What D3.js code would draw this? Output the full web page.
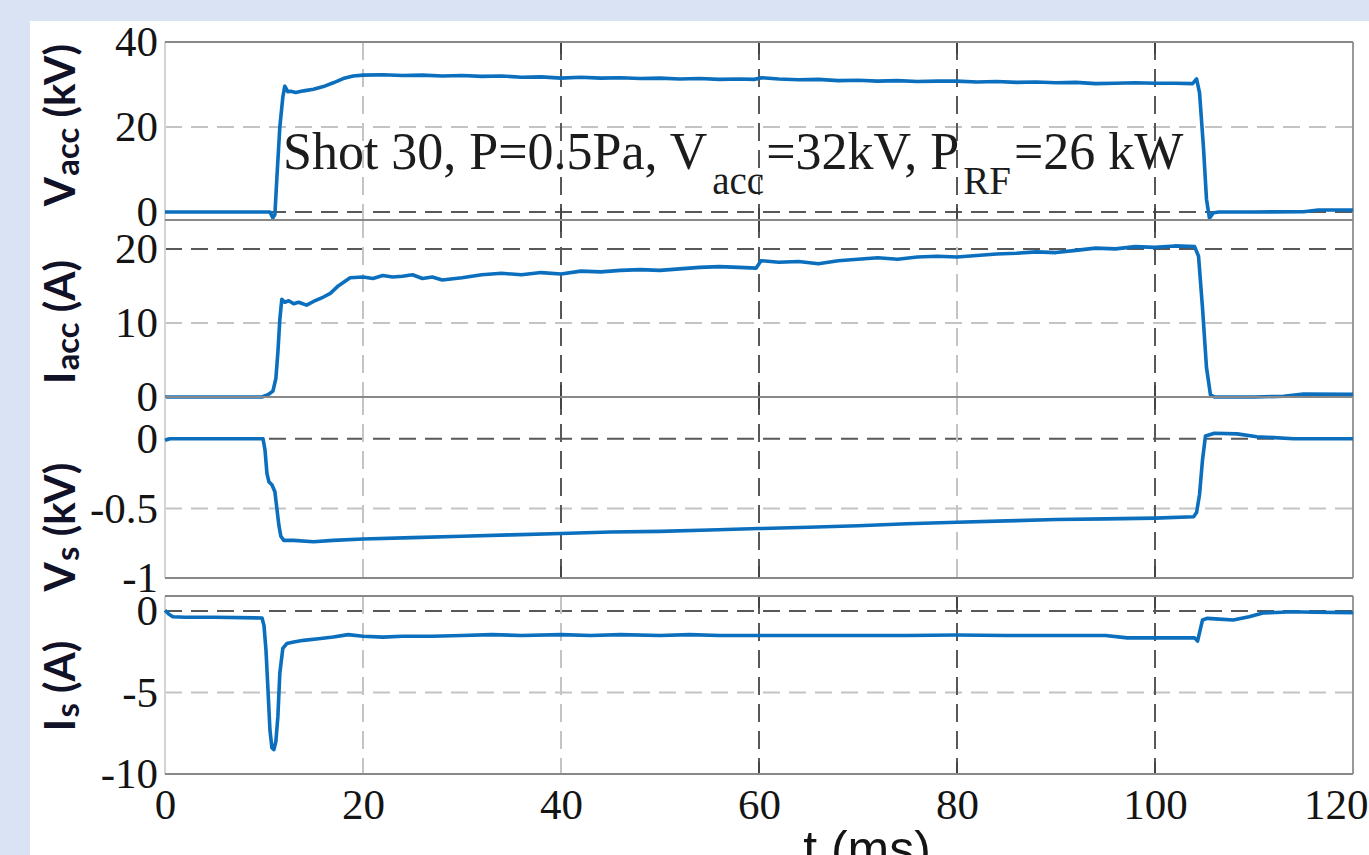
<!DOCTYPE html>
<html lang="en">
<head>
<meta charset="UTF-8">
<title>Shot 30 waveforms</title>
<script src="https://cdnjs.cloudflare.com/ajax/libs/d3/7.8.5/d3.min.js"></script>
<style>
  html, body { margin: 0; padding: 0; background: #dae3f3; overflow: hidden; }
  svg { display: block; }
  .tick text { font-family: "Liberation Serif", "Times New Roman", serif; font-size: 43px; fill: #141414; }
  .axis-title { font-family: Lato, "Liberation Sans", sans-serif; font-size: 42px; font-weight: bold; fill: #111128; }
  .note { font-family: "Liberation Serif", "Times New Roman", serif; font-size: 52px; fill: #1c1c1c; }
</style>
</head>
<body>
<svg id="chart" width="1369" height="855"></svg>
<script>
// time axis (ms)
const timeTicks = [0, 20, 40, 60, 80, 100, 120];

// accelerating voltage (kV)
const vaccTime = [0, 5, 10.6, 10.9, 11.1, 11.3, 11.6, 11.9, 12.1, 12.4,
  12.7, 13.2, 14, 15, 16, 17, 18, 19, 20, 22,
  24, 26, 28, 30, 32, 34, 36, 38, 40, 42,
  44, 46, 48, 50, 52, 54, 56, 58, 59.5, 60.3,
  62, 64, 66, 68, 70, 72, 74, 76, 78, 80,
  82, 84, 86, 88, 90, 92, 94, 96, 98, 100,
  102, 103.8, 104.2, 104.5, 104.9, 105.2, 105.5, 105.9, 106.5, 110,
  115, 116.5, 120];
const vaccKV = [0, 0, 0, -1.4, -0.6, 8, 20, 27, 29.6, 28.3,
  28.4, 28.1, 28.5, 28.9, 29.5, 30.4, 31.4, 32.0, 32.2, 32.3,
  32.1, 32.2, 32.0, 32.1, 31.9, 32.0, 31.7, 31.8, 31.5, 31.7,
  31.5, 31.6, 31.4, 31.5, 31.3, 31.4, 31.2, 31.3, 31.2, 31.6,
  31.3, 31.1, 31.2, 30.9, 31.0, 30.8, 30.9, 30.7, 30.8, 30.8,
  30.6, 30.7, 30.5, 30.6, 30.4, 30.5, 30.2, 30.3, 30.4, 30.3,
  30.3, 30.2, 31.3, 28, 15, 3, -1.5, -0.2, 0, 0,
  0.05, 0.45, 0.45];
const vaccTicks = [0, 20, 40];

// accelerating current (A)
const iaccTime = [0, 5, 9.8, 10.4, 10.9, 11.2, 11.4, 11.6, 11.8, 12.1,
  12.5, 13.0, 13.5, 14.3, 15, 16, 16.7, 17.5, 18.7, 20,
  21, 22, 23, 24, 25, 26, 27, 28, 30, 32,
  34, 36, 38, 40, 42, 44, 46, 48, 50, 52,
  54, 56, 58, 59.7, 60.2, 62, 64, 66, 68, 70,
  72, 74, 76, 78, 80, 82, 84, 86, 88, 90,
  92, 94, 96, 98, 100, 102, 104, 104.4, 104.8, 105.2,
  105.6, 106, 110, 113, 115, 120];
const iaccA = [0, 0, 0, 0.3, 0.8, 2.5, 6, 10.5, 13.2, 12.8,
  13.0, 12.6, 12.8, 12.4, 12.9, 13.5, 14.0, 15.0, 16.1, 16.2,
  16.0, 16.4, 16.2, 16.3, 16.5, 16.0, 16.2, 15.8, 16.1, 16.5,
  16.7, 16.5, 16.8, 16.6, 17.0, 16.9, 17.1, 17.2, 17.1, 17.3,
  17.5, 17.6, 17.5, 17.4, 18.4, 18.2, 18.3, 18.0, 18.4, 18.6,
  18.8, 18.6, 18.9, 19.0, 18.9, 19.1, 19.3, 19.4, 19.6, 19.5,
  19.8, 20.1, 20.0, 20.3, 20.2, 20.4, 20.3, 19.0, 12, 4,
  0.3, 0, 0, 0.1, 0.4, 0.35];
const iaccTicks = [0, 10, 20];

// source voltage (kV)
const vsTime = [0, 0.5, 5, 9.9, 10.1, 10.3, 10.5, 10.8, 11.1, 11.3,
  11.5, 11.7, 12.0, 13, 15, 17, 20, 25, 30, 35,
  40, 45, 50, 55, 60, 65, 70, 75, 80, 85,
  90, 95, 100, 103.9, 104.2, 104.5, 104.8, 105.1, 106, 108.3,
  110.3, 114, 120];
const vsKV = [-0.01, 0, 0, 0, -0.08, -0.25, -0.31, -0.33, -0.38, -0.5,
  -0.62, -0.7, -0.73, -0.73, -0.74, -0.73, -0.72, -0.71, -0.70, -0.69,
  -0.68, -0.67, -0.665, -0.655, -0.645, -0.635, -0.625, -0.61, -0.60, -0.59,
  -0.58, -0.575, -0.57, -0.56, -0.53, -0.4, -0.15, 0.02, 0.04, 0.035,
  0.015, 0, 0];
const vsTicks = [-1, -0.5, 0];

// source current (A)
const isTime = [0, 0.4, 0.8, 2, 5, 9.8, 10.0, 10.2, 10.4, 10.6,
  10.8, 11.0, 11.2, 11.4, 11.6, 11.9, 12.3, 13, 14, 15.5,
  17, 18.5, 20, 22, 24, 27, 30, 33, 36, 40,
  43, 46, 50, 53, 56, 60, 65, 70, 75, 80,
  85, 90, 95, 97.2, 100, 104.0, 104.3, 104.8, 105.3, 106.5,
  107.9, 109.5, 110.9, 113.9, 116, 120];
const isA = [0.05, -0.2, -0.35, -0.38, -0.38, -0.43, -0.9, -2.4, -4.8, -7.3,
  -8.4, -8.5, -8.0, -6.5, -3.8, -2.3, -2.0, -1.9, -1.8, -1.7,
  -1.6, -1.45, -1.55, -1.6, -1.55, -1.55, -1.5, -1.45, -1.5, -1.45,
  -1.5, -1.45, -1.5, -1.45, -1.5, -1.5, -1.5, -1.5, -1.5, -1.47,
  -1.5, -1.5, -1.5, -1.65, -1.65, -1.65, -1.85, -0.55, -0.45, -0.5,
  -0.55, -0.35, -0.12, -0.05, -0.08, -0.1];
const isTicks = [-10, -5, 0];

const W = 1369, H = 855;
const svg = d3.select("#chart");

svg.append("rect").attr("width", W).attr("height", H).attr("fill", "#dae3f3");
svg.append("rect").attr("x", 30).attr("y", 21)
  .attr("width", W - 30).attr("height", H - 21).attr("fill", "#fff");

const x = d3.scaleLinear().domain([0, 120]).range([165, 1353]);

const DARK = "#585858", LIGHT = "#c4c4c4";

const panels = [
  { time: vaccTime, values: vaccKV, ticks: vaccTicks, domain: [-1.9, 40], top: 42, bottom: 220,
    title: ["V", "acc", " (kV)"], titleY: 125, darkY: [0], darkX: [40, 60, 80, 100] },
  { time: iaccTime, values: iaccA, ticks: iaccTicks, domain: [0, 23.9], top: 220, bottom: 397,
    title: ["I", "acc", " (A)"], titleY: 322, darkY: [20], darkX: [40, 60, 100] },
  { time: vsTime, values: vsKV, ticks: vsTicks, domain: [-1, 0.3], top: 397, bottom: 578,
    title: ["V", "s", " (kV)"], titleY: 527, darkY: [0], darkX: [40, 60, 100] },
  { time: isTime, values: isA, ticks: isTicks, domain: [-10, 0.92], top: 596, bottom: 774,
    title: ["I", "s", " (A)"], titleY: 686, darkY: [0], darkX: [60, 80, 100] }
];

panels.forEach(p => {
  const y = d3.scaleLinear().domain(p.domain).range([p.bottom, p.top]);
  const g = svg.append("g");

  // horizontal dashed grid
  g.selectAll(".hgrid")
    .data(p.ticks.filter(d => d > p.domain[0] && d < p.domain[1]))
    .enter().append("line")
    .attr("x1", x(0)).attr("x2", x(120))
    .attr("y1", d => y(d)).attr("y2", d => y(d))
    .attr("stroke", d => p.darkY.includes(d) ? DARK : LIGHT)
    .attr("stroke-width", 2)
    .attr("stroke-dasharray", "17,9");

  // vertical dashed grid + inward ticks
  const inner = timeTicks.filter(t => t > 0 && t < 120);
  g.selectAll(".vgrid")
    .data(inner)
    .enter().append("line")
    .attr("x1", d => x(d)).attr("x2", d => x(d))
    .attr("y1", p.top).attr("y2", p.bottom)
    .attr("stroke", d => p.darkX.includes(d) ? DARK : LIGHT)
    .attr("stroke-width", 2)
    .attr("stroke-dasharray", "18,9");
  [[p.top, 1], [p.bottom, -1]].forEach(([yy, dir]) => {
    g.selectAll(null)
      .data(inner)
      .enter().append("line")
      .attr("x1", d => x(d)).attr("x2", d => x(d))
      .attr("y1", yy).attr("y2", yy + dir * 12)
      .attr("stroke", d => p.darkX.includes(d) ? "#444" : LIGHT)
      .attr("stroke-width", 2);
  });

  // frame
  g.append("line").attr("x1", x(0)).attr("x2", x(0)).attr("y1", p.top).attr("y2", p.bottom)
    .attr("stroke", "#d4d4d4").attr("stroke-width", 2);
  g.append("line").attr("x1", x(120)).attr("x2", x(120)).attr("y1", p.top).attr("y2", p.bottom)
    .attr("stroke", "#999").attr("stroke-width", 2);
  [p.top, p.bottom].forEach(yy => {
    g.append("line").attr("x1", x(0)).attr("x2", x(120)).attr("y1", yy).attr("y2", yy)
      .attr("stroke", "#888").attr("stroke-width", 2);
  });

  // y tick labels
  const ax = g.append("g")
    .attr("transform", `translate(${x(0) - 3},0)`)
    .call(d3.axisLeft(y).tickValues(p.ticks).tickFormat(d => String(d)).tickSize(0).tickPadding(4));
  ax.select(".domain").remove();
  ax.attr("font-family", null).attr("font-size", null);

  // trace
  g.append("path")
    .datum(d3.zip(p.time, p.values))
    .attr("d", d3.line().x(d => x(d[0])).y(d => y(d[1])))
    .attr("fill", "none")
    .attr("stroke", "#0b6fbd")
    .attr("stroke-width", 3.6)
    .attr("stroke-linejoin", "round");

  // axis title
  const t = svg.append("text")
    .attr("class", "axis-title")
    .attr("text-anchor", "middle")
    .attr("transform", `translate(75,${p.titleY}) rotate(-90)`);
  t.append("tspan").text(p.title[0]);
  t.append("tspan").attr("font-size", "0.78em").attr("dy", "0.12em").attr("dx", "0.04em").text(p.title[1]);
  t.append("tspan").attr("dy", "-0.09em").text(p.title[2]);
});

// time axis labels
const xa = svg.append("g")
  .attr("transform", "translate(0,774)")
  .call(d3.axisBottom(x).tickValues(timeTicks).tickFormat(d => String(d)).tickSize(0).tickPadding(14));
xa.select(".domain").remove();
xa.attr("font-family", null).attr("font-size", null);
xa.selectAll(".tick").filter(d => d === 120).select("text")
  .attr("text-anchor", "end").attr("x", 15);

svg.append("text")
  .attr("font-family", "'Liberation Sans', Arial, sans-serif")
  .attr("font-size", 50)
  .attr("fill", "#141414")
  .attr("text-anchor", "middle")
  .attr("x", 867).attr("y", 866)
  .text("t (ms)");

// shot annotation
const note = svg.append("text").attr("class", "note").attr("x", 283).attr("y", 169);
note.append("tspan").text("Shot 30, P=0.5Pa, V");
note.append("tspan").attr("font-size", 39).attr("dx", 5).attr("dy", 25).text("acc");
note.append("tspan").attr("dx", 2).attr("dy", -25).text("=32kV, P");
note.append("tspan").attr("font-size", 39).attr("dx", 4).attr("dy", 25).text("RF");
note.append("tspan").attr("dx", 3).attr("dy", -25).text("=26 kW");
</script>
</body>
</html>
